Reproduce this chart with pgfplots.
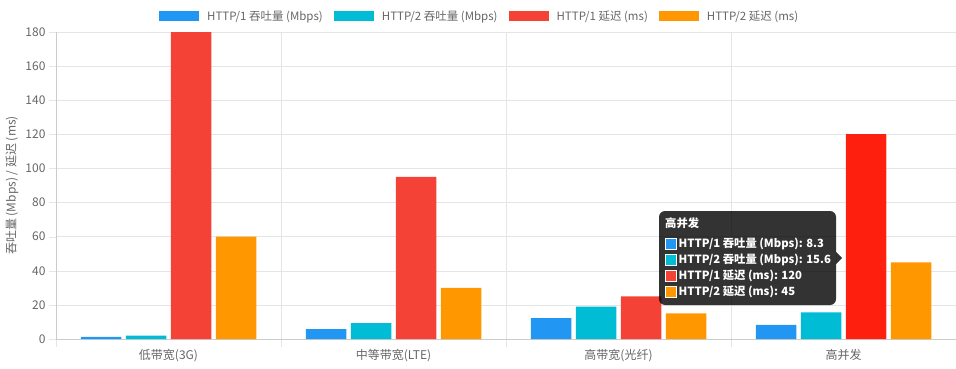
\documentclass[border=0pt]{standalone}
\usepackage{pgfplots}
\pgfplotsset{compat=1.18}
\usepackage{fontspec}
\setmainfont{Noto Sans CJK SC}
\definecolor{c1}{HTML}{2196F3}
\definecolor{c2}{HTML}{00BCD4}
\definecolor{c3}{HTML}{F44336}
\definecolor{c4}{HTML}{FF9800}
\definecolor{hl}{HTML}{FF1F0F}
\definecolor{txt}{HTML}{666666}
\definecolor{grd}{HTML}{E5E5E5}
\definecolor{axl}{HTML}{CCCCCC}
\begin{document}
\begin{tikzpicture}
\path[use as bounding box] (0,0) rectangle (956pt,368pt);
\begin{axis}[
  at={(56pt,29pt)}, anchor=south west,
  scale only axis, width=900pt, height=307pt,
  xmin=0, xmax=4, ymin=0, ymax=180,
  ybar, bar width=0.18,
  axis lines*=left, axis line style={axl, -},
  xtick={0.5,1.5,2.5,3.5},
  xticklabels={低带宽(3G),中等带宽(LTE),高带宽(光纤),高并发},
  minor xtick={0,1,2,3,4},
  xminorgrids, minor x grid style={grd},
  major x tick style={draw=none},
  minor x tick style={grd},
  ytick={0,20,...,180},
  ymajorgrids, major y grid style={grd},
  major y tick style={grd},
  tick align=outside, major tick length=7pt, minor tick length=8pt,
  tick label style={font=\fontsize{12pt}{14pt}\selectfont, text=txt},
  /pgf/number format/assume math mode=true,
  ylabel={吞吐量 (Mbps) / 延迟 (ms)},
  ylabel style={font=\fontsize{12pt}{14pt}\selectfont, text=txt, at={(axis description cs:-0.0489,0.5)}, anchor=center},
  legend columns=4,
  legend style={draw=none, fill=none, inner sep=0pt, at={(axis description cs:0.1144,1.052)}, anchor=west,
    font=\fontsize{11.5pt}{14pt}\selectfont, text=txt,
    nodes={inner sep=0pt},
    /tikz/every odd column/.append style={column sep=8pt},
    /tikz/every even column/.append style={column sep=11pt}},
  legend cell align=left,
  legend image code/.code={\fill[#1] (0pt,-5pt) rectangle (40pt,5pt);},
]
\addplot[fill=c1, draw=none, bar shift=-0.3] coordinates {(0.5,1.2) (1.5,5.8) (2.5,12.2) (3.5,8.3)};
\addlegendentry{HTTP/1 吞吐量 (Mbps)}
\addplot[fill=c2, draw=none, bar shift=-0.1] coordinates {(0.5,2.0) (1.5,9.3) (2.5,19) (3.5,15.6)};
\addlegendentry{HTTP/2 吞吐量 (Mbps)}
\addplot[fill=c3, draw=none, bar shift=0.1] coordinates {(0.5,180) (1.5,95) (2.5,25) (3.5,120)};
\addlegendentry{HTTP/1 延迟 (ms)}
\addplot[fill=c4, draw=none, bar shift=0.3] coordinates {(0.5,60) (1.5,30) (2.5,15) (3.5,45)};
\addlegendentry{HTTP/2 延迟 (ms)}
\addplot[fill=hl, draw=none, bar shift=0.1, forget plot] coordinates {(3.5,120)};
\end{axis}
% tooltip
\fill[black, fill opacity=0.8, rounded corners=6pt] (659pt,63pt) rectangle (836pt,157pt);
\fill[black, fill opacity=0.8] (836pt,116pt) -- (842pt,110pt) -- (836pt,104pt) -- cycle;
\begin{scope}[every node/.style={inner sep=0pt, anchor=west, text=white, font=\bfseries\fontsize{11.3pt}{14pt}\selectfont}]
\node at (665pt,145pt) {高并发};
\foreach \y/\c/\t in {124/c1/{HTTP/1 吞吐量 (Mbps): 8.3}, 108/c2/{HTTP/2 吞吐量 (Mbps): 15.6}, 92/c3/{HTTP/1 延迟 (ms): 120}, 76/c4/{HTTP/2 延迟 (ms): 45}}{
  \filldraw[fill=\c, draw=white, line width=0.8pt] (665.5pt,\y pt-5.5pt) rectangle (676.5pt,\y pt+5.5pt);
  \node at (678.5pt,\y pt) {\t};
}
\end{scope}
\end{tikzpicture}
\end{document}
